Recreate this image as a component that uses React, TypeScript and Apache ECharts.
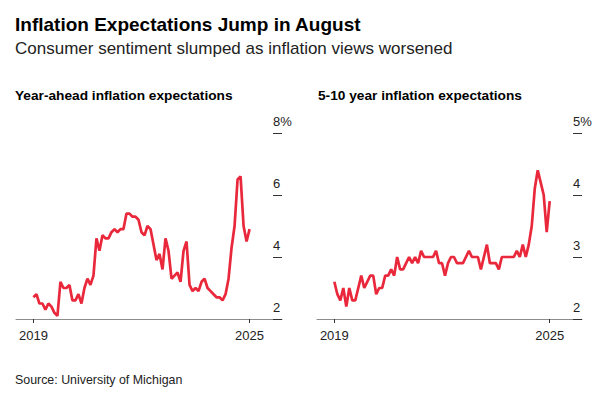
import React, { useEffect, useRef } from "react";
import * as echarts from "echarts";

// Monthly, Aug 2019 – Aug 2025 (73 points)
const yearAhead: number[] = [
  2.7, 2.8, 2.5, 2.5, 2.3,
  2.5, 2.4, 2.2, 2.1, 3.2, 3.0, 3.0, 3.1, 2.6, 2.6, 2.8, 2.5,
  3.0, 3.3, 3.1, 3.4, 4.6, 4.2, 4.7, 4.6, 4.6, 4.8, 4.9, 4.8,
  4.9, 4.9, 5.4, 5.4, 5.3, 5.3, 5.2, 4.8, 4.7, 5.0, 4.9, 4.4,
  3.9, 4.1, 3.6, 4.6, 4.2, 3.3, 3.4, 3.5, 3.2, 4.2, 4.5, 3.1,
  2.9, 3.0, 2.9, 3.2, 3.3, 3.0, 2.9, 2.8, 2.7, 2.7, 2.6, 2.8,
  3.3, 4.3, 5.0, 6.5, 6.6, 5.0, 4.5, 4.9,
];
const longRun: number[] = [
  2.6, 2.4, 2.3, 2.5, 2.2,
  2.5, 2.3, 2.3, 2.5, 2.7, 2.5, 2.6, 2.7, 2.7, 2.4, 2.5, 2.5,
  2.7, 2.7, 2.8, 2.7, 3.0, 2.8, 2.8, 2.9, 3.0, 2.9, 3.0, 2.9,
  3.1, 3.0, 3.0, 3.0, 3.0, 3.1, 2.9, 2.9, 2.7, 2.9, 3.0, 3.0,
  2.9, 2.9, 2.9, 3.0, 3.1, 3.0, 3.0, 3.0, 2.8, 3.0, 3.2, 2.9,
  2.9, 2.9, 2.8, 3.0, 3.0, 3.0, 3.0, 3.0, 3.1, 3.0, 3.2, 3.0,
  3.2, 3.5, 4.1, 4.4, 4.2, 4.0, 3.4, 3.9,
];
const xTickIndex: number[] = [0, 72];
const xTickLabels: string[] = ["2019", "2025"];
const leftYTicks: number[] = [2, 4, 6, 8];
const rightYTicks: number[] = [2, 3, 4, 5];

const TITLE = "Inflation Expectations Jump in August";
const SUBTITLE = "Consumer sentiment slumped as inflation views worsened";
const PANEL_TITLES = ["Year-ahead inflation expectations", "5-10 year inflation expectations"];
const SOURCE = "Source: University of Michigan";

const FONT = "'Liberation Sans', Arial, Helvetica, sans-serif";
const RED = "#e9283c";

export default function App() {
  const ref = useRef<HTMLDivElement>(null);
  useEffect(() => {
    document.body.style.margin = "0";
    const chart = echarts.init(ref.current!, null, { renderer: "svg" });

    const xAxisFor = (gi: number) => ({
      type: "value" as const,
      gridIndex: gi,
      min: -5.8,
      max: 82.8,
      axisLine: { show: true, onZero: false, lineStyle: { color: "#8c8c8c", width: 1 } },
      axisTick: {
        show: true,
        customValues: xTickIndex,
        length: 4,
        lineStyle: { color: "#333", width: 1 },
      },
      axisLabel: {
        show: true,
        customValues: xTickIndex,
        formatter: (v: number) => xTickLabels[xTickIndex.indexOf(v)] ?? "",
        fontFamily: FONT,
        fontSize: 13,
        color: "#222",
        margin: 10,
      },
      splitLine: { show: false },
    });

    const yAxisFor = (gi: number, ticks: number[]) => ({
      type: "value" as const,
      gridIndex: gi,
      position: "right" as const,
      min: ticks[0],
      max: ticks[ticks.length - 1],
      interval: ticks[1] - ticks[0],
      axisLine: { show: false, onZero: false },
      axisTick: { show: true, inside: true, length: 9, lineStyle: { color: "#333", width: 1 } },
      splitLine: { show: false },
      axisLabel: {
        show: true,
        inside: true,
        align: "left",
        verticalAlign: "bottom",
        margin: 9,
        padding: [0, 0, 5, 0],
        fontFamily: FONT,
        fontSize: 13,
        color: "#222",
        formatter: (v: number) => (v === ticks[ticks.length - 1] ? `${v}%` : `${v}`),
      },
    });

    chart.setOption({
      animation: false,
      backgroundColor: "#ffffff",
      textStyle: { fontFamily: FONT },
      grid: [
        { left: 16, right: 333, top: 133, bottom: 75 },
        { left: 317, right: 33, top: 133, bottom: 75 },
      ],
      xAxis: [xAxisFor(0), xAxisFor(1)],
      yAxis: [yAxisFor(0, leftYTicks), yAxisFor(1, rightYTicks)],
      series: [
        {
          type: "line",
          xAxisIndex: 0,
          yAxisIndex: 0,
          data: yearAhead.map((v, i) => [i, v]),
          showSymbol: false,
          lineStyle: { color: RED, width: 2.7 },
          clip: false,
        },
        {
          type: "line",
          xAxisIndex: 1,
          yAxisIndex: 1,
          data: longRun.map((v, i) => [i, v]),
          showSymbol: false,
          lineStyle: { color: RED, width: 2.7 },
          clip: false,
        },
      ],
      graphic: [
        {
          type: "text",
          left: 15,
          top: 15,
          style: { text: TITLE, font: `bold 19px ${FONT}`, fill: "#000" },
        },
        {
          type: "text",
          left: 15,
          top: 40,
          style: { text: SUBTITLE, font: `17px ${FONT}`, fill: "#222" },
        },
        {
          type: "text",
          left: 15,
          top: 88,
          style: { text: PANEL_TITLES[0], font: `bold 13.7px ${FONT}`, fill: "#000" },
        },
        {
          type: "text",
          left: 318,
          top: 88,
          style: { text: PANEL_TITLES[1], font: `bold 13.7px ${FONT}`, fill: "#000" },
        },
        {
          type: "text",
          left: 15,
          top: 374,
          style: { text: SOURCE, font: `12.4px ${FONT}`, fill: "#222" },
        },
      ],
    });
    return () => chart.dispose();
  }, []);
  return (
    <div
      ref={ref}
      style={{ position: "fixed", left: 0, top: 0, width: 615, height: 394 }}
    />
  );
}
